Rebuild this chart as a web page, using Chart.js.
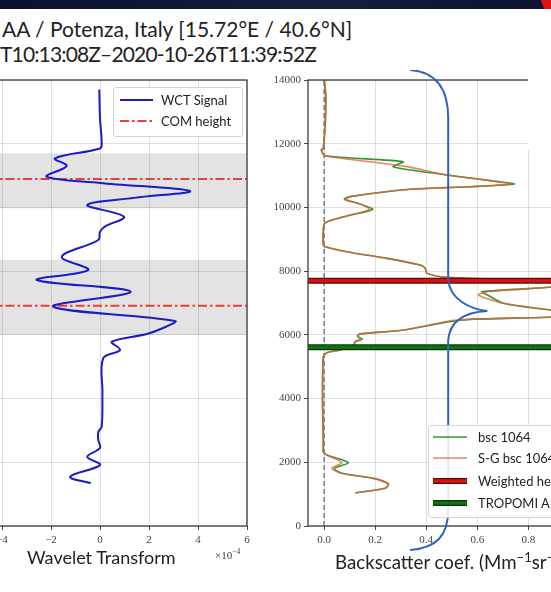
<!DOCTYPE html>
<html>
<head>
<meta charset="utf-8">
<script src="https://cdn.jsdelivr.net/npm/chart.js@4.4.0/dist/chart.umd.min.js"></script>
<style>
  html, body { margin: 0; padding: 0; }
  body {
    width: 551px; height: 592px; overflow: hidden; position: relative;
    background: #fff; color: #222;
    font-family: Lato, 'DejaVu Sans', sans-serif;
  }
  .topbar { position: absolute; left: 0; top: 0; width: 551px; height: 9px;
    background: linear-gradient(90deg, #0a0f2e, #161e3e 60%, #0b112f); }
  .corner { position: absolute; right: 0; top: 0; width: 10px; height: 16px;
    background: #e01212; clip-path: polygon(0 0, 100% 0, 100% 100%, 55% 100%); }
  .patch { position: absolute; left: 528px; top: 9px; width: 23px; height: 141px; background: #fff; }
  .title { position: absolute; white-space: nowrap; font-size: 21px; line-height: 24px; }
  canvas { position: absolute; }
  .axis-label { position: absolute; white-space: nowrap; font-size: 18px; line-height: 20px; }
  .offset { position: absolute; white-space: nowrap; font-family: 'Liberation Serif', serif; font-size: 11px; color: #444; }
  .legend { position: absolute; border: 1px solid #d4d4d4; border-radius: 3px; background: rgba(255,255,255,0.85); font-size: 13px; }
  .legend .row { position: absolute; left: 0; white-space: nowrap; height: 16px; line-height: 16px; }
  .legend svg { position: absolute; top: 3px; }
  .legend span { position: absolute; top: 0; }
  sup { font-size: 70%; line-height: 0; }
</style>
</head>
<body>
<div class="topbar"></div>
<div class="corner"></div>

<div class="title" style="left:2px; top:17px;">AA / Potenza, Italy [15.72°E / 40.6°N]</div>
<div class="title" style="left:0px; top:42px; letter-spacing:-0.85px;">T10:13:08Z–2020-10-26T11:39:52Z</div>

<canvas id="wct" width="319" height="486" style="left:-62px; top:70px;"></canvas>
<canvas id="bsc" width="347" height="486" style="left:268px; top:70px;"></canvas>

<div class="patch"></div>

<div class="axis-label" style="left:27px; top:547px;">Wavelet Transform</div>
<div class="offset" style="left:215px; top:549px;">×10<sup>−4</sup></div>
<div class="axis-label" style="left:335px; top:552px; font-size:18.7px;">Backscatter coef. (Mm<sup>−1</sup>sr<sup>−1</sup>)</div>

<div class="legend" id="wct-legend" style="left:113px; top:87px; width:128px; height:48px;"></div>
<div class="legend" id="bsc-legend" style="left:428px; top:425px; width:200px; height:91px;"></div>

<script>
// altitude axis (m), shared by both panels
const altTicks = [0, 2000, 4000, 6000, 8000, 10000, 12000, 14000];

// wavelet covariance transform profile, in units of 1e-4
const wctAltitude = [13700, 12800, 12000, 11850, 11540, 11300, 10965, 10770, 10516, 10300,
                     10076, 9709, 9400, 9238, 8978, 8453, 8036, 7722, 7355, 6884,
                     6435, 6215, 6027, 5785, 5525, 5264, 4200, 3117, 2950, 2700,
                     2448, 2175, 1915, 1548, 1340];
const wctSignal = [-0.03, 0.0, 0.07, 0.0, -1.84, -1.36, -2.18, 0.0, 3.67, 1.4,
                   -0.52, 0.98, 0.2, 0.0, -0.07, -1.56, -0.48, -2.58, 1.25, -1.91,
                   3.06, 2.57, 1.91, 0.48, 0.82, 0.13, 0.1, 0.07, -0.07, -0.07,
                   0.0, -0.52, 0.0, -1.22, -0.38];
const wctTicks = [-6, -4, -2, 0, 2, 4, 6];

// detected layers: centre of mass and vertical extent
const comHeights = [10890, 6915];
const layerBottoms = [9975, 5995];
const layerTops = [11700, 8350];

// attenuated backscatter at 1064 nm, raw and Savitzky-Golay smoothed (Mm-1 sr-1)
const bscAltitude = [14000, 13480, 12700, 11860, 11800, 11620, 11435, 11280, 11020, 10810,
                     10735, 10650, 10570, 10340, 10255, 10105, 9940, 9730, 9520, 9290,
                     8820, 8765, 8610, 8400, 8190, 8090, 7930, 7805, 7740, 7620,
                     7500, 7355, 7250, 6990, 6780, 6680, 6560, 6465, 6150, 6030,
                     5965, 5860, 5785, 5680, 5525, 5440, 5315, 3950, 2600, 2330,
                     2230, 1990, 1810, 1655, 1495, 1320, 1185, 1075, 1045];
const bsc1064 = [0.001, 0.006, 0.005, -0.003, -0.010, 0.004, 0.310, 0.270, 0.481, 0.680,
                 0.745, 0.573, 0.337, 0.102, 0.080, 0.141, 0.190, 0.089, 0.004, -0.003,
                 -0.003, 0.004, 0.089, 0.246, 0.376, 0.396, 0.403, 0.481, 0.690, 1.030,
                 0.900, 0.618, 0.640, 0.702, 0.886, 1.000, 0.890, 0.540, 0.311, 0.141,
                 0.131, 0.150, 0.122, 0.115, 0.063, 0.011, -0.003, -0.006, -0.003, -0.003,
                 0.011, 0.095, 0.040, 0.069, 0.193, 0.252, 0.239, 0.154, 0.122];
const sgBsc1064 = [0.001, 0.008, 0.004, -0.003, -0.012, 0.004, 0.180, 0.324, 0.481, 0.677,
                   0.727, 0.573, 0.337, 0.102, 0.086, 0.141, 0.178, 0.089, 0.004, -0.003,
                   -0.003, 0.004, 0.089, 0.246, 0.376, 0.396, 0.403, 0.481, 0.690, 1.020,
                   0.890, 0.640, 0.605, 0.702, 0.886, 1.000, 0.890, 0.520, 0.311, 0.141,
                   0.131, 0.140, 0.122, 0.115, 0.063, 0.011, -0.003, -0.006, -0.003, -0.003,
                   0.011, 0.069, 0.030, 0.069, 0.193, 0.252, 0.239, 0.154, 0.122];
const bscTicks = [0, 0.2, 0.4, 0.6, 0.8, 1.0];

// layer heights (m)
const weightedHeight = 7700;
const tropomiHeight = 5610;

// hand-drawn brace over the backscatter panel, in data units (x: bsc, y: altitude)
const braceSegments = [
  ['M', 0.337, 14314],
  ['C', 0.447, 14251, 0.486, 13624, 0.486, 12807],
  ['L', 0.486, 7722],
  ['C', 0.494, 7094, 0.573, 6812, 0.639, 6749],
  ['C', 0.565, 6718, 0.494, 6529, 0.486, 5839],
  ['L', 0.486, 502],
  ['C', 0.486, -314, 0.439, -690, 0.337, -753]
];

const WCT_MIN = -6, WCT_MAX = 6;
const BSC_MIN = -0.063, BSC_MAX = 1.1;

const tickFont = { family: "'Liberation Serif', 'DejaVu Serif', serif", size: 11 };
const gridColor = 'rgba(0,0,0,0.12)';
const toPoints = (xs, ys) => xs.map((x, i) => ({ x: x, y: ys[i] }));
const hLine = (h, x0, x1) => [{ x: x0, y: h }, { x: x1, y: h }];
const fixTicks = list => scale => { scale.ticks = list.map(v => ({ value: v })); };

// box around the axes, like matplotlib spines
const frame = {
  id: 'frame',
  afterDatasetsDraw(chart) {
    const a = chart.chartArea, ctx = chart.ctx;
    ctx.save();
    ctx.strokeStyle = '#3c3c3c';
    ctx.lineWidth = 1.3;
    ctx.strokeRect(a.left, a.top, a.right - a.left, a.bottom - a.top);
    ctx.restore();
  }
};

// grey spans marking the layer extents
const layerBands = {
  id: 'layerBands',
  beforeDatasetsDraw(chart) {
    const a = chart.chartArea, y = chart.scales.y, ctx = chart.ctx;
    ctx.save();
    ctx.fillStyle = 'rgba(0,0,0,0.11)';
    layerBottoms.forEach((lo, i) => {
      const top = y.getPixelForValue(layerTops[i]);
      const bot = y.getPixelForValue(lo);
      ctx.fillRect(a.left, top, a.right - a.left, bot - top);
    });
    ctx.restore();
  }
};

const brace = {
  id: 'brace',
  afterDraw(chart) {
    const x = chart.scales.x, y = chart.scales.y, ctx = chart.ctx;
    const px = (vx, vy) => [x.getPixelForValue(vx), y.getPixelForValue(vy)];
    ctx.save();
    ctx.strokeStyle = '#2f62bd';
    ctx.lineWidth = 2;
    ctx.beginPath();
    braceSegments.forEach(seg => {
      const pts = [];
      for (let i = 1; i < seg.length; i += 2) pts.push(...px(seg[i], seg[i + 1]));
      if (seg[0] === 'M') ctx.moveTo(...pts);
      else if (seg[0] === 'L') ctx.lineTo(...pts);
      else ctx.bezierCurveTo(...pts);
    });
    ctx.stroke();
    ctx.restore();
  }
};

const baseOptions = {
  animation: false,
  responsive: false,
  events: [],
  plugins: { legend: { display: false }, tooltip: { enabled: false } }
};

// --- left panel: wavelet transform ---
const comLines = comHeights.flatMap(h => [...hLine(h, WCT_MIN, WCT_MAX), { x: 0, y: null }]);

const wctChart = new Chart(document.getElementById('wct'), {
  type: 'scatter',
  data: {
    datasets: [
      { label: 'WCT Signal', data: toPoints(wctSignal, wctAltitude), showLine: true,
        borderColor: '#1c1cc6', borderWidth: 2, pointRadius: 0, tension: 0.35 },
      { label: 'COM height', data: comLines, showLine: true, spanGaps: false,
        borderColor: 'rgba(232,44,34,0.9)', borderWidth: 2, borderDash: [9, 3, 2.5, 3], pointRadius: 0 }
    ]
  },
  options: {
    ...baseOptions,
    layout: { padding: { left: 15, right: 10, top: 10, bottom: 0 } },
    scales: {
      x: {
        type: 'linear', min: WCT_MIN, max: WCT_MAX,
        afterBuildTicks: fixTicks(wctTicks),
        afterFit: s => { s.height = 30; },
        ticks: { font: tickFont, color: '#444', padding: 4, maxRotation: 0,
                 callback: v => (v < 0 ? '−' + Math.abs(v) : String(v)) },
        grid: { color: gridColor, tickColor: '#444', tickLength: 4 },
        border: { display: false }
      },
      y: {
        type: 'linear', min: 0, max: 14000,
        afterBuildTicks: fixTicks(altTicks),
        afterFit: s => { s.width = 0; },
        ticks: { display: false },
        grid: { color: gridColor, drawTicks: false },
        border: { display: false }
      }
    }
  },
  plugins: [layerBands, frame]
});

// --- right panel: backscatter profiles ---
const bscChart = new Chart(document.getElementById('bsc'), {
  type: 'scatter',
  data: {
    datasets: [
      { label: 'zero', data: [{ x: 0, y: 0 }, { x: 0, y: 14000 }], showLine: true, order: 6,
        borderColor: '#6a6a6a', borderWidth: 1.3, borderDash: [5, 3], pointRadius: 0 },
      { label: 'bsc 1064', data: toPoints(bsc1064, bscAltitude), showLine: true, order: 5,
        borderColor: '#2e9a2e', borderWidth: 1.6, pointRadius: 0, tension: 0.25 },
      { label: 'S-G bsc 1064', data: toPoints(sgBsc1064, bscAltitude), showLine: true, order: 4,
        borderColor: 'rgba(226,96,66,0.78)', borderWidth: 1.6, pointRadius: 0, tension: 0.25 },
      { label: 'Weighted height', data: hLine(weightedHeight, BSC_MIN, BSC_MAX), showLine: true, order: 3,
        borderColor: '#5e0606', borderWidth: 6, pointRadius: 0 },
      { label: 'Weighted height', data: hLine(weightedHeight, BSC_MIN, BSC_MAX), showLine: true, order: 2,
        borderColor: '#d41414', borderWidth: 3.5, pointRadius: 0 },
      { label: 'TROPOMI ALH', data: hLine(tropomiHeight, BSC_MIN, BSC_MAX), showLine: true, order: 1,
        borderColor: '#063a06', borderWidth: 6, pointRadius: 0 },
      { label: 'TROPOMI ALH', data: hLine(tropomiHeight, BSC_MIN, BSC_MAX), showLine: true, order: 0,
        borderColor: '#127012', borderWidth: 3.5, pointRadius: 0 }
    ]
  },
  options: {
    ...baseOptions,
    layout: { padding: { left: 0, right: 10, top: 10, bottom: 0 } },
    scales: {
      x: {
        type: 'linear', min: BSC_MIN, max: BSC_MAX,
        afterBuildTicks: fixTicks(bscTicks),
        afterFit: s => { s.height = 30; },
        ticks: { font: tickFont, color: '#444', padding: 4, maxRotation: 0, includeBounds: false,
                 callback: v => v.toFixed(1) },
        grid: { color: gridColor, tickColor: '#444', tickLength: 4 },
        border: { display: false }
      },
      y: {
        type: 'linear', min: 0, max: 14000,
        afterBuildTicks: fixTicks(altTicks),
        afterFit: s => { s.width = 40; },
        ticks: { font: tickFont, color: '#444', padding: 3, callback: v => String(v) },
        grid: { color: gridColor, tickColor: '#444', tickLength: 4 },
        border: { display: false }
      }
    }
  },
  plugins: [frame, brace]
});

// --- legends, built from the chart datasets ---
function sample(width, lines) {
  const ns = 'http://www.w3.org/2000/svg';
  const svg = document.createElementNS(ns, 'svg');
  svg.setAttribute('width', width);
  svg.setAttribute('height', 10);
  lines.forEach(l => {
    const ln = document.createElementNS(ns, 'line');
    ln.setAttribute('x1', 0); ln.setAttribute('x2', width);
    ln.setAttribute('y1', 5); ln.setAttribute('y2', 5);
    ln.setAttribute('stroke', l.color);
    ln.setAttribute('stroke-width', l.width);
    if (l.dash) ln.setAttribute('stroke-dasharray', l.dash.join(' '));
    svg.appendChild(ln);
  });
  return svg;
}

function buildLegend(el, items, rowTops, sampleLeft, sampleWidth, textLeft) {
  items.forEach((item, i) => {
    const row = document.createElement('div');
    row.className = 'row';
    row.style.top = rowTops[i] + 'px';
    const svg = sample(sampleWidth, item.lines);
    svg.style.left = sampleLeft + 'px';
    const txt = document.createElement('span');
    txt.style.left = textLeft + 'px';
    txt.textContent = item.label;
    row.appendChild(svg);
    row.appendChild(txt);
    el.appendChild(row);
  });
}

const styleOf = ds => ({ color: ds.borderColor, width: ds.borderWidth, dash: ds.borderDash });
const wd = wctChart.data.datasets, bd = bscChart.data.datasets;

buildLegend(document.getElementById('wct-legend'), [
  { label: wd[0].label, lines: [styleOf(wd[0])] },
  { label: wd[1].label, lines: [styleOf(wd[1])] }
], [4, 25], 6, 33, 47);

buildLegend(document.getElementById('bsc-legend'), [
  { label: bd[1].label, lines: [{ color: bd[1].borderColor, width: 1.3 }] },
  { label: bd[2].label, lines: [{ color: bd[2].borderColor, width: 1.3 }] },
  { label: bd[3].label, lines: [styleOf(bd[3]), styleOf(bd[4])] },
  { label: bd[5].label, lines: [styleOf(bd[5]), styleOf(bd[6])] }
], [3, 24, 47, 69], 4, 34, 49);
</script>
</body>
</html>
